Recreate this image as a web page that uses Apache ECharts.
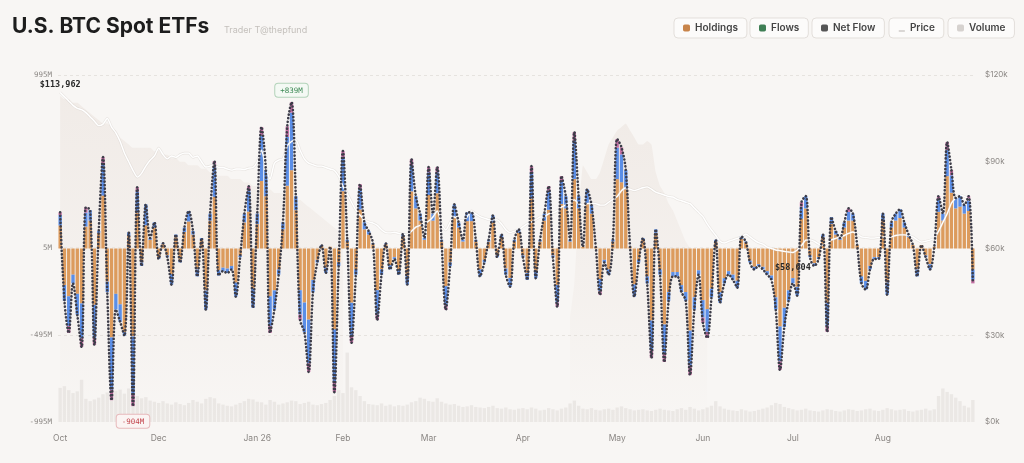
<!DOCTYPE html>
<html>
<head>
<meta charset="utf-8">
<title>U.S. BTC Spot ETFs</title>
<script src="https://cdn.jsdelivr.net/npm/echarts@6/dist/echarts.min.js"></script>
<style>
  html, body { margin: 0; padding: 0; background: #f8f6f4; }
  #container { width: 1024px; height: 463px; }
</style>
</head>
<body>
<div id="container"></div>
<script>
// month ticks (index of the trading day where each month label sits)
var monthLabels = ['Oct', 'Dec', 'Jan 26', 'Feb', 'Mar', 'Apr', 'May', 'Jun', 'Jul', 'Aug'];
var monthStarts = [0, 23, 46, 66, 86, 108, 130, 150, 171, 192];

// daily net flow, $M
var netFlow = [
  207, -300, -484, -200, -380, -565, 236, 220, -553, 100,
  524, -250, -870, -350, -420, -500, 92, -904, 351, -100,
  253, 60, 150, -60, 30, -50, -207, 80, -80, 120,
  215, 100, -160, 60, -351, 200, 501, -155, -130, -140,
  -120, -276, -50, 200, 357, -340, 200, 697, 450, -484,
  -350, -150, 150, 700, 839, 300, -409, -480, -708, -250,
  -80, 20, -140, 10, -824, -100, 559, 50, -541, -150,
  369, 150, 100, 30, -409, -150, 30, -120, -60, -150,
  85, -207, 513, 300, 200, 60, 467, 200, 467, 50,
  -351, -100, 253, 150, 50, 207, 207, 50, -160, -80,
  50, 190, -50, 80, -150, -219, 50, 110, -50, -180,
  472, -170, 50, 200, 357, -50, -334, 415, 300, 50,
  668, 300, 10, 340, 250, 10, -265, -80, -150, 50,
  628, 580, 450, 10, -276, -80, 60, -200, -628, 110,
  -150, -651, -300, -160, -160, -250, -300, -726, -350, -150,
  -426, -513, -280, 50, -311, -200, -150, -180, -225, 70,
  40, -80, -120, -100, -120, -150, -180, -350, -697, -450,
  -300, -200, -270, 265, 300, -50, -100, -60, 80, -478,
  180, 100, 60, 150, 230, 200, 20, -200, -236, -120,
  -60, -60, 200, -265, 150, 200, 225, 150, 80, 20,
  -160, 20, -50, -120, 10, 300, 200, 610, 450, 290,
  300, 250, 300, -200
];

// blue issuer share of the flow, $M
var blueFlow = [
  60, -90, -170, -50, -120, -200, 80, 60, -190, 10,
  180, -60, -300, -90, -100, -20, 20, -330, 120, -20,
  120, 10, 30, -10, 5, -10, -60, 15, -15, 25,
  60, 20, -40, 10, -110, 40, 170, -30, -20, -25,
  -20, -80, -10, 50, 120, -110, 60, 260, 150, -170,
  -110, -30, 40, 280, 330, 80, -140, -170, -250, -70,
  -15, 5, -30, 0, -300, -20, 190, 10, -190, -30,
  120, 40, 20, 5, -140, -30, 5, -25, -10, -30,
  15, -50, 150, 70, 40, 10, 130, 40, 120, 10,
  -110, -20, 70, 30, 10, 50, 50, 10, -40, -15,
  10, 40, -10, 15, -35, -50, 10, 20, -10, -40,
  150, -40, 10, 40, 110, -10, -100, 130, 70, 10,
  220, 70, 0, 80, 50, 0, -70, -15, -30, 10,
  180, 160, 110, 0, -70, -15, 10, -40, -170, 20,
  -30, -170, -50, -25, -25, -40, -50, -200, -70, -25,
  -100, -130, -50, 10, -60, -30, -20, -30, -40, 15,
  5, -10, -15, -10, -15, -20, -25, -70, -200, -110,
  -60, -30, -50, 70, 70, -10, -15, -10, 15, -130,
  40, 20, 10, 30, 50, 40, 0, -40, -50, -20,
  -10, -10, 40, -70, 30, 40, 50, 30, 15, 0,
  -40, 0, -10, -30, 0, 70, 40, 150, 100, 60,
  60, 50, 60, -60
];

// pink issuer share of the flow, $M
var pinkFlow = [
  15, 0, -40, 0, 0, -50, 30, 0, -40, 0,
  40, 0, -60, 0, 0, 0, 0, -70, 25, 0,
  0, 0, 0, 0, 0, 0, 0, 0, 0, 0,
  0, 0, 0, 0, 0, 0, 35, 0, 0, 0,
  0, 0, 0, 0, 25, 0, 0, 50, 0, -40,
  0, 0, 0, 60, 60, 0, -30, 0, -50, 0,
  0, 0, 0, 0, -60, 0, 40, 0, -40, 0,
  25, 0, 0, 0, -30, 0, 0, 0, 0, 0,
  0, 0, 35, 0, 0, 0, 30, 0, 30, 0,
  -25, 0, 0, 0, 0, 0, 0, 0, 0, 0,
  0, 0, 0, 0, 0, 0, 0, 0, 0, 0,
  35, 0, 0, 0, 25, 0, -25, 30, 0, 0,
  50, 0, 0, 0, 0, 0, -20, 0, 0, 0,
  50, 40, 0, 0, 0, 0, 0, 0, -45, 0,
  0, -45, 0, 0, 0, 0, 0, -55, 0, 0,
  -30, -35, 0, 0, 0, 0, 0, 0, 0, 0,
  0, 0, 0, 0, 0, 0, 0, 0, -50, 0,
  0, 0, 0, 25, 0, 0, 0, 0, 0, -35,
  0, 0, 0, 0, 20, 0, 0, 0, 0, 0,
  0, 0, 0, 0, 0, 0, 0, 0, 0, 0,
  0, 0, 0, 0, 0, 20, 0, 45, 30, 0,
  0, 0, 25, -20
];

// BTC price, $k
var price = [
  113.962, 112.5, 111.0, 109.5, 108.5, 108.0, 107.0, 105.5, 104.0, 102.5,
  103.0, 105.0, 102.0, 100.0, 97.0, 93.0, 90.0, 87.0, 84.7, 86.0,
  88.5, 90.5, 92.0, 94.7, 92.5, 91.0, 92.0, 91.5, 92.5, 93.0,
  93.0, 91.5, 92.0, 90.0, 88.2, 88.5, 89.0, 88.0, 88.0, 87.5,
  87.1, 87.5, 87.5, 87.3, 87.8, 88.0, 90.0, 94.0, 88.0, 84.0,
  89.5, 90.6, 91.0, 95.5, 97.0, 97.5, 94.0, 91.0, 89.5, 89.0,
  88.5, 88.5, 88.0, 87.5, 87.0, 85.0, 81.5, 79.0, 76.0, 73.3,
  71.5, 70.0, 69.2, 68.8, 68.0, 66.5, 65.5, 65.4, 65.6, 65.2,
  65.0, 64.7, 66.0, 67.4, 68.0, 68.5, 69.5, 70.9, 73.0, 68.5,
  66.4, 69.0, 70.9, 70.0, 69.5, 71.0, 73.0, 72.0, 71.0, 70.5,
  70.0, 69.9, 69.9, 68.5, 66.5, 65.5, 66.0, 66.4, 67.5, 68.5,
  69.2, 70.0, 70.9, 71.0, 72.0, 72.3, 73.0, 74.3, 75.0, 76.0,
  76.8, 75.5, 75.0, 75.5, 75.7, 75.5, 75.0, 75.0, 76.0, 77.0,
  78.0, 80.0, 81.0, 80.5, 80.0, 80.5, 81.0, 81.3, 80.5, 79.5,
  79.0, 78.5, 78.0, 77.8, 77.0, 76.5, 76.0, 75.5, 74.0, 72.5,
  71.0, 68.5, 66.4, 64.5, 62.5, 61.9, 62.5, 63.0, 63.5, 64.0,
  65.0, 64.0, 62.9, 62.0, 61.5, 60.5, 60.0, 59.5, 59.3, 59.0,
  58.8, 58.604, 59.5, 61.0, 62.9, 63.0, 62.5, 61.5, 61.2, 62.0,
  63.0, 63.5, 64.0, 64.5, 65.2, 65.7, 65.0, 64.0, 63.8, 63.6,
  63.6, 63.8, 64.0, 63.8, 64.0, 64.5, 64.7, 64.7, 64.5, 64.0,
  63.0, 62.2, 62.5, 62.9, 63.5, 66.0, 69.0, 72.0, 75.7, 77.5,
  78.5, 78.0, 77.0, 75.7
];

// daily traded volume, $B
var volume = [
  5.9, 6.2, 5.5, 5.0, 5.3, 7.3, 4.0, 3.6, 3.9, 4.2,
  4.8, 5.1, 4.6, 5.4, 5.6, 4.9, 5.8, 6.4, 4.5, 4.1,
  4.3, 3.7, 3.5, 3.3, 3.6, 3.2, 3.0, 3.4, 3.1, 2.9,
  3.3, 3.8, 3.5, 3.2, 4.0, 4.3, 4.1, 3.2, 3.0, 2.8,
  2.7, 3.0, 3.3, 3.6, 4.0, 3.9, 3.5, 3.4, 3.0, 3.8,
  3.5, 3.0, 3.2, 3.4, 3.7, 3.6, 3.1, 3.3, 3.5, 3.0,
  2.9, 3.1, 3.3, 3.8, 4.5, 5.5, 5.0, 12.0, 6.0, 5.5,
  4.5, 3.6, 3.1, 3.0, 2.9, 3.2, 2.8, 3.0, 2.7, 2.9,
  2.8, 3.0, 3.4, 3.6, 4.2, 4.0, 3.6, 3.5, 4.1, 3.5,
  3.2, 3.0, 3.1, 2.8, 2.6, 2.7, 2.9, 2.6, 2.5, 2.4,
  2.6, 2.8, 2.4, 2.3, 2.5, 2.2, 2.1, 2.3, 2.4, 2.2,
  2.5, 2.3, 2.0, 2.1, 2.4, 2.2, 2.0, 2.3, 2.5, 3.2,
  3.7, 2.8, 2.3, 2.2, 2.4, 2.1, 2.0, 2.2, 2.3, 2.1,
  2.5, 2.7, 2.4, 2.2, 2.0, 2.1, 2.2, 2.0, 1.9, 2.1,
  2.3, 2.1, 2.0, 1.9, 2.2, 2.4, 2.1, 2.6, 2.3, 2.0,
  2.2, 2.5, 2.8, 3.6, 2.7, 2.3, 2.1, 2.0, 1.9, 2.2,
  2.0, 1.8, 1.9, 2.1, 2.3, 2.5, 2.9, 3.3, 3.1, 2.6,
  2.4, 2.2, 2.0, 2.1, 2.3, 2.0, 1.9, 1.8, 2.0, 2.2,
  2.1, 1.9, 1.8, 2.0, 2.2, 2.1, 1.9, 2.0, 2.2, 2.3,
  2.0, 1.9, 2.1, 2.4, 2.2, 2.0, 2.1, 2.2, 1.9, 1.8,
  2.0, 2.1, 2.3, 2.0, 2.2, 4.5, 5.8, 5.2, 4.8, 4.2,
  3.6, 2.8, 2.5, 3.8
];

// total holdings backdrop (relative scale), two visible stretches
var holdingsOctStart = 0;
var holdingsOct = [
  94, 93, 93, 92, 92, 91, 90, 89, 88, 87,
  86, 86, 85, 84, 82, 81, 80, 79, 79, 79,
  79, 79, 78, 78, 77, 77, 76, 76, 75, 75,
  74, 74, 74, 73, 73, 72, 72, 71, 71, 71,
  70, 70, 70, 69, 69, 68, 68, 68, 67, 67,
  66, 66, 66, 65, 65, 64, 64, 63, 62, 61,
  60, 59, 58, 57, 56, 55, 52
];
var holdingsAprStart = 119;
var holdingsApr = [
  30, 40, 60, 74, 72, 70, 70, 72, 76, 80,
  82, 84, 85, 86, 84, 82, 80, 80, 81, 80,
  72, 68, 66, 63, 61, 58, 55, 52, 50, 45,
  38, 32, 28
];

var categories = netFlow.map(function (v, i) { return 'd' + i; });
var orangeFlow = netFlow.map(function (v, i) { return v - blueFlow[i] - pinkFlow[i]; });
function toPairs(arr, start) {
  return arr.map(function (v, i) { return [start + i, v]; });
}

var monoFont = 'DejaVu Sans Mono';
var sansFont = 'Inter';

var legendBase = {
  top: 18,
  padding: [5, 9, 5, 9],
  itemWidth: 7,
  itemHeight: 7,
  icon: 'roundRect',
  selectedMode: false,
  borderColor: '#e3dfdb',
  borderWidth: 1,
  borderRadius: 4,
  backgroundColor: '#fcfbfa',
  textStyle: { fontSize: 10, fontWeight: 600, color: '#444', fontFamily: sansFont }
};
function legendBox(left, item) {
  return Object.assign({}, legendBase, { left: left, data: [item] });
}

var holdingsFill = new echarts.graphic.LinearGradient(0, 0, 0, 1, [
  { offset: 0, color: 'rgba(214,196,184,0.30)' },
  { offset: 0.6, color: 'rgba(214,196,184,0.14)' },
  { offset: 1, color: 'rgba(214,196,184,0)' }
]);

var dom = document.getElementById('container');
var myChart = echarts.init(dom);
var option = {
  backgroundColor: '#f8f6f4',
  animation: false,
  title: [
    {
      text: 'U.S. BTC Spot ETFs',
      left: 12, top: 16, padding: 0,
      textStyle: { fontSize: 21, fontWeight: 700, color: '#1d1d1d', fontFamily: sansFont }
    },
    {
      text: 'Trader T@thepfund',
      left: 224, top: 26, padding: 0,
      textStyle: { fontSize: 9, fontWeight: 400, color: '#c4c0bc', fontFamily: sansFont }
    }
  ],
  legend: [
    legendBox(674, { name: 'Holdings', itemStyle: { color: '#c8844a' } }),
    legendBox(750, { name: 'Flows', itemStyle: { color: '#3f7f55' } }),
    legendBox(812, { name: 'Net Flow', itemStyle: { color: '#555555' } }),
    legendBox(889, { name: 'Price', icon: 'path://M0,0h0.01v0.01h-0.01z M1,8h8v1.2h-8z', itemStyle: { color: '#b8b4b0' } }),
    legendBox(948, { name: 'Volume', itemStyle: { color: '#d6d2cf' } })
  ],
  grid: { left: 58, right: 49, top: 75, bottom: 41 },
  xAxis: [
    {
      type: 'category',
      data: categories,
      axisLine: { show: false },
      axisTick: { show: false },
      axisLabel: {
        interval: 0,
        margin: 12,
        fontSize: 8.5,
        color: '#8a8683',
        fontFamily: sansFont,
        formatter: function (value, index) {
          var k = monthStarts.indexOf(index);
          return k >= 0 ? monthLabels[k] : '';
        }
      }
    },
    { type: 'category', data: categories, show: false }
  ],
  yAxis: [
    {
      type: 'value',
      min: -995, max: 995, interval: 500,
      position: 'left',
      axisLine: { show: false },
      axisTick: { show: false },
      axisLabel: {
        margin: 6,
        fontSize: 7.5,
        color: '#8c8885',
        fontFamily: monoFont,
        formatter: function (v) { return v === 505 ? '' : v + 'M'; }
      },
      splitLine: {
        lineStyle: {
          type: [3, 3],
          color: ['rgba(0,0,0,0)', 'rgba(120,110,100,0.14)', 'rgba(120,110,100,0.08)', 'rgba(0,0,0,0)', 'rgba(120,110,100,0.14)']
        }
      }
    },
    {
      type: 'value',
      min: 0, max: 120, interval: 30,
      position: 'right',
      axisLine: { show: false },
      axisTick: { show: false },
      splitLine: { show: false },
      axisLabel: {
        margin: 10,
        fontSize: 8,
        color: '#8c8885',
        fontFamily: sansFont,
        formatter: function (v) { return '$' + v + 'k'; }
      }
    },
    { type: 'value', min: 0, max: 60, show: false },
    { type: 'value', min: 0, max: 100, show: false }
  ],
  series: [
    {
      name: 'Holdings',
      type: 'line',
      xAxisIndex: 1, yAxisIndex: 3,
      data: toPairs(holdingsOct, holdingsOctStart),
      smooth: 0.2, symbol: 'none', silent: true, z: 1,
      lineStyle: { width: 0 },
      areaStyle: { color: holdingsFill }
    },
    {
      name: 'Holdings',
      type: 'line',
      xAxisIndex: 1, yAxisIndex: 3,
      data: toPairs(holdingsApr, holdingsAprStart),
      smooth: 0.1, symbol: 'none', silent: true, z: 1,
      lineStyle: { width: 0 },
      areaStyle: { color: holdingsFill }
    },
    {
      name: 'Volume',
      type: 'bar',
      xAxisIndex: 1, yAxisIndex: 2,
      data: volume,
      barCategoryGap: '22%',
      itemStyle: { color: 'rgba(205,200,196,0.30)' },
      z: 1
    },
    {
      name: 'Holdings',
      type: 'bar',
      stack: 'flow',
      data: orangeFlow,
      barCategoryGap: '22%',
      itemStyle: { color: '#dc9b5d' },
      z: 2
    },
    {
      name: 'Flows',
      type: 'bar',
      stack: 'flow',
      data: blueFlow,
      itemStyle: { color: '#5b8ee6' },
      z: 2
    },
    {
      name: 'Flows',
      type: 'bar',
      stack: 'flow',
      data: pinkFlow,
      itemStyle: { color: '#c46fa3' },
      z: 2
    },
    {
      name: 'Price',
      type: 'line',
      yAxisIndex: 1,
      data: price,
      symbol: 'none', smooth: 0.2, z: 4,
      lineStyle: { width: 2.6, color: 'rgba(200,194,188,0.32)' }
    },
    {
      name: 'Price',
      type: 'line',
      yAxisIndex: 1,
      data: price,
      symbol: 'none', smooth: 0.2, z: 5,
      lineStyle: { width: 1.4, color: '#ffffff' },
      markPoint: {
        symbol: 'circle', symbolSize: 1,
        itemStyle: { color: 'rgba(0,0,0,0)' },
        label: { fontFamily: monoFont, fontSize: 8.5, fontWeight: 700, color: '#2a2a2a' },
        data: [
          { coord: [0, price[0]], label: { position: 'top', distance: 3, formatter: '$113,962' } },
          { coord: [171, price[171]], label: { position: 'bottom', distance: 10, formatter: '$58,604' } }
        ]
      }
    },
    {
      name: 'Net Flow',
      type: 'line',
      data: netFlow,
      symbol: 'none', smooth: 0.35, z: 6,
      lineStyle: { width: 2.6, color: '#3c3c48', type: [0.1, 3.4], cap: 'round' },
      markPoint: {
        symbol: 'circle', symbolSize: 1,
        itemStyle: { color: 'rgba(0,0,0,0)' },
        label: { fontFamily: monoFont, fontSize: 7.5, padding: [3, 5, 2, 5], borderWidth: 1, borderRadius: 3 },
        data: [
          {
            coord: [54, 839],
            label: { position: 'top', distance: 5, formatter: '+839M', color: '#3d8a55', borderColor: '#b3d3ba', backgroundColor: '#f4f9f4' }
          },
          {
            coord: [17, -904],
            label: { position: 'bottom', distance: 8, formatter: '-904M', color: '#c2454d', borderColor: '#e7b9bb', backgroundColor: '#fbf4f3' }
          }
        ]
      }
    }
  ]
};

if (option && typeof option === 'object') {
  myChart.setOption(option, true);
}
</script>
</body>
</html>
